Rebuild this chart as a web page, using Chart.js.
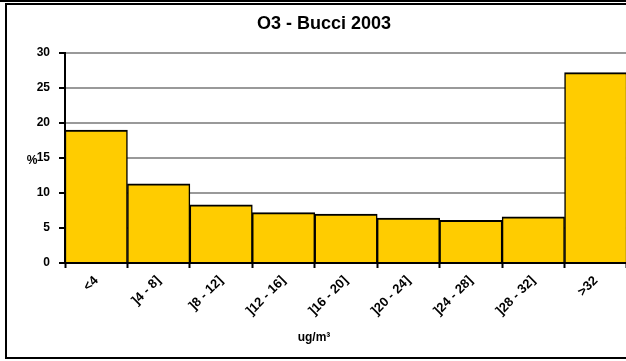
<!DOCTYPE html>
<html>
<head>
<meta charset="utf-8">
<script src="https://cdn.jsdelivr.net/npm/chart.js@4"></script>
<style>
  html, body { margin: 0; padding: 0; background: #fff; overflow: hidden; width: 626px; height: 361px; }
  #topline { position: absolute; left: 0; top: 0; width: 626px; height: 2px; background: #000; }
  #frame { position: absolute; left: 5px; top: 3px; width: 700px; height: 352px; border: 2px solid #000; background: #fff; }
  #wrap { position: absolute; left: 0; top: 0; width: 634px; height: 352px; }
</style>
</head>
<body>
<div id="topline"></div>
<div id="frame"><div id="wrap"><canvas id="c"></canvas></div></div>
<script>
const chartTitle = 'O3 - Bucci 2003';
const categories = ['<4', ']4 - 8]', ']8 - 12]', ']12 - 16]', ']16 - 20]', ']20 - 24]', ']24 - 28]', ']28 - 32]', '>32'];
const percentValues = [19.0, 11.3, 8.3, 7.2, 7.0, 6.4, 6.1, 6.6, 27.2];
const yTicks = [0, 5, 10, 15, 20, 25, 30];
const xAxisTitle = 'ug/m³';
const yAxisTitle = '%';

const FONT = '"Liberation Sans", Arial, sans-serif';

const axisTitles = {
  id: 'axisTitles',
  afterDraw(chart) {
    const ctx = chart.ctx;
    ctx.save();
    ctx.fillStyle = '#000';
    ctx.font = 'bold 12px ' + FONT;
    ctx.textAlign = 'center';
    ctx.textBaseline = 'middle';
    ctx.fillText(xAxisTitle, 307, 333);
    const y15 = chart.scales.y.getPixelForValue(15);
    ctx.font = 'bold 12px ' + FONT;
    ctx.fillText(yAxisTitle, 25, y15 + 3);
    ctx.restore();
  }
};

new Chart(document.getElementById('c'), {
  type: 'bar',
  data: {
    labels: categories,
    datasets: [{
      data: percentValues,
      backgroundColor: '#FFCC00',
      borderColor: '#000',
      borderWidth: { top: 2, left: 1.5, right: 1.5, bottom: 0 },
      borderSkipped: false,
      barPercentage: 1,
      categoryPercentage: 1
    }]
  },
  options: {
    responsive: true,
    maintainAspectRatio: false,
    animation: false,
    devicePixelRatio: 1,
    layout: { padding: 0 },
    plugins: {
      legend: { display: false },
      tooltip: { enabled: false },
      title: {
        display: true,
        text: chartTitle,
        color: '#000',
        font: { family: FONT, size: 18, weight: 'bold', lineHeight: 1.2 },
        padding: { top: 8, bottom: 18.4 }
      }
    },
    scales: {
      x: {
        afterFit(scale) { scale.height = 94; },
        grid: {
          display: true,
          drawOnChartArea: false,
          drawTicks: true,
          tickLength: 5,
          tickColor: '#000',
          tickWidth: 2,
          offset: true
        },
        border: { display: true, color: '#000', width: 2 },
        ticks: {
          color: '#000',
          font: { family: FONT, size: 13, weight: 'bold' },
          minRotation: 45,
          maxRotation: 45,
          autoSkip: false,
          padding: 5
        }
      },
      y: {
        min: 0,
        max: 30,
        afterFit(scale) { scale.width = 58; },
        afterBuildTicks(scale) { scale.ticks = yTicks.map(v => ({ value: v })); },
        grid: {
          color: ctx => (ctx.tick && ctx.tick.value === 0) ? '#000' : '#999999',
          lineWidth: 2,
          drawTicks: true,
          tickLength: 6,
          tickColor: '#000',
          tickWidth: 2
        },
        border: { display: true, color: '#000', width: 2 },
        ticks: {
          color: '#000',
          font: { family: FONT, size: 12, weight: 'bold' },
          padding: 9
        }
      },
      ySpacer: {
        position: 'right',
        min: 0,
        max: 30,
        afterFit(scale) { scale.width = 14; },
        grid: { display: false, drawOnChartArea: false, drawTicks: false },
        border: { display: false },
        ticks: { display: false }
      }
    }
  },
  plugins: [axisTitles]
});
</script>
</body>
</html>
